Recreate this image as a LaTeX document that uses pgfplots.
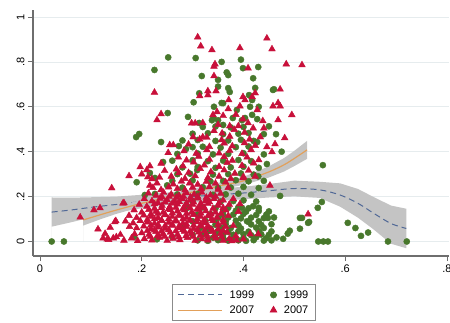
\documentclass[border=0pt]{standalone}
\usepackage{fontspec}
\setmainfont{Liberation Sans}
\usepackage{pgfplots}
\pgfplotsset{compat=1.18}
\pgfplotsset{linelegend/.style={legend image code/.code={\draw[##1] (0pt,0pt) -- (44pt,0pt);}}}
\definecolor{sgreen}{RGB}{72,120,44}
\definecolor{sred}{RGB}{200,16,58}
\definecolor{sblue}{RGB}{80,104,150}
\definecolor{sorange}{RGB}{226,160,90}
\definecolor{band}{RGB}{196,196,196}
\definecolor{gridc}{RGB}{230,236,238}
\definecolor{axc}{RGB}{110,110,110}
\begin{document}
\begin{tikzpicture}
\path[use as bounding box] (0,0) rectangle (450pt,322pt);
\begin{axis}[
  at={(33pt,66pt)}, anchor=south west, scale only axis,
  width=416pt, height=246pt,
  xmin=-0.01376, xmax=0.804, ymin=-0.0646, ymax=1.031,
  axis x line*=bottom, axis y line*=left,
  axis line style={axc, line width=1.2pt, -},
  xtick={0,0.2,0.4,0.6,0.8}, ytick={0,0.2,0.4,0.6,0.8,1},
  tick align=outside, major tick length=5pt,
  tick style={axc, line width=0.8pt},
  ymajorgrids, grid style={gridc, line width=0.6pt},
  /pgf/number format/fixed, /pgf/number format/precision=1,
  /pgf/number format/skip 0., /pgf/number format/assume math mode=true,
  ticklabel style={font=\fontsize{11}{13}\selectfont},
  yticklabel style={rotate=90, anchor=south},
  legend columns=2,
  legend style={at={(0.507,-0.114)}, anchor=north, draw=axc!80, line width=0.6pt,
    fill=white, font=\fontsize{11}{13}\selectfont, inner xsep=5pt, inner ysep=4pt,
    row sep=2pt,
    /tikz/every odd column/.append style={column sep=5pt},
    /tikz/every even column/.append style={column sep=14pt}},
  legend cell align=left,
]
% 1999 CI band
\addplot[fill=band, draw=none, forget plot] coordinates {
(0.023,0.196) (0.06,0.195) (0.1,0.197) (0.15,0.2) (0.2,0.208) (0.25,0.218) (0.3,0.227) (0.35,0.235) (0.4,0.244) (0.45,0.256) (0.5,0.271) (0.55,0.266) (0.59,0.259) (0.625,0.234) (0.655,0.199) (0.69,0.16) (0.72,0.146)
(0.72,-0.03) (0.69,-0.01) (0.655,0.055) (0.625,0.106) (0.59,0.155) (0.55,0.194) (0.5,0.201) (0.45,0.196) (0.4,0.188) (0.35,0.181) (0.3,0.173) (0.25,0.162) (0.2,0.148) (0.15,0.13) (0.1,0.107) (0.06,0.085) (0.023,0.066)
} \closedcycle;
% 1999 fit
\addplot[sblue, line width=1pt, dash pattern=on 6pt off 4pt, smooth, linelegend] coordinates {
(0.023,0.131) (0.06,0.14) (0.1,0.152) (0.15,0.165) (0.2,0.178) (0.25,0.19) (0.3,0.2) (0.35,0.208) (0.4,0.216) (0.45,0.226) (0.5,0.236) (0.55,0.23) (0.59,0.207) (0.625,0.17) (0.655,0.127) (0.69,0.08) (0.72,0.058)
};
\addlegendentry{1999}
% 1999 scatter
\addplot[only marks, mark=*, mark size=3.1pt, mark options={fill=sgreen, draw=sgreen}] coordinates {
(0.023,0) (0.047,0) (0.252,0.82) (0.306,0.817) (0.225,0.764) (0.318,0.737) (0.357,0.80) (0.313,0.66) (0.302,0.62) (0.251,0.572) (0.291,0.555) (0.189,0.465) (0.195,0.479) (0.238,0.443) (0.273,0.425) (0.287,0.412) (0.313,0.528) (0.342,0.6) (0.357,0.617) (0.341,0.55) (0.35,0.72)
(0.395,0.81) (0.399,0.772) (0.429,0.777) (0.419,0.727) (0.423,0.684) (0.46,0.678) (0.411,0.652) (0.37,0.741) (0.373,0.666) (0.43,0.6) (0.427,0.545) (0.464,0.478) (0.427,0.443) (0.475,0.40) (0.403,0.55) (0.413,0.6)
(0.367,0.753) (0.35,0.69) (0.37,0.683) (0.458,0.675) (0.36,0.616) (0.417,0.63) (0.387,0.586) (0.35,0.54) (0.338,0.54) (0.417,0.564) (0.379,0.55) (0.397,0.54) (0.36,0.519)
(0.242,0.354) (0.226,0.283) (0.19,0.264) (0.216,0.305) (0.206,0.207) (0.25,0.25) (0.309,0.318) (0.226,0.212)
(0.556,0.34) (0.446,0.345) (0.472,0.203) (0.554,0.176) (0.546,0.15) (0.511,0.105) (0.527,0.083) (0.511,0.057) (0.491,0.048) (0.487,0.035) (0.478,0.012) (0.547,0) (0.557,0) (0.566,0) (0.605,0.083) (0.62,0.06) (0.645,0.04) (0.631,0.025) (0.684,0) (0.721,0) (0.429,0.29) (0.448,0.105) (0.432,0.038) (0.407,0.09) (0.397,0.15) (0.419,0.157) (0.529,0.087) (0.515,0.105)
(0.31,0.005) (0.33,0.003) (0.35,0.006) (0.37,0.004) (0.39,0.005) (0.405,0.003) (0.42,0.006) (0.44,0.004) (0.455,0.005)
(0.30,0.03) (0.32,0.032) (0.345,0.028) (0.36,0.031) (0.38,0.03) (0.4,0.033) (0.415,0.028) (0.435,0.031) (0.45,0.03)
(0.315,0.06) (0.335,0.058) (0.355,0.062) (0.375,0.06) (0.395,0.058) (0.425,0.062) (0.44,0.06)
(0.30,0.09) (0.325,0.092) (0.345,0.088) (0.365,0.09) (0.385,0.093) (0.41,0.088) (0.43,0.09)
(0.31,0.12) (0.335,0.122) (0.36,0.118) (0.38,0.12) (0.40,0.123) (0.425,0.118) (0.445,0.12)
(0.29,0.15) (0.32,0.152) (0.345,0.148) (0.37,0.15) (0.39,0.153) (0.41,0.148) (0.43,0.15)
(0.30,0.18) (0.33,0.182) (0.355,0.178) (0.38,0.18) (0.40,0.183) (0.425,0.178)
(0.27,0.21) (0.31,0.212) (0.34,0.208) (0.365,0.21) (0.39,0.213) (0.415,0.208)
(0.28,0.24) (0.32,0.242) (0.35,0.238) (0.375,0.24) (0.40,0.243) (0.43,0.238)
(0.26,0.27) (0.30,0.272) (0.335,0.268) (0.36,0.27) (0.385,0.273) (0.41,0.268) (0.44,0.27)
(0.27,0.30) (0.295,0.302) (0.34,0.298) (0.37,0.30) (0.395,0.303) (0.42,0.298)
(0.28,0.33) (0.31,0.332) (0.345,0.328) (0.375,0.33) (0.40,0.333) (0.43,0.328)
(0.26,0.36) (0.30,0.362) (0.33,0.358) (0.36,0.36) (0.39,0.363) (0.415,0.358)
(0.27,0.39) (0.31,0.392) (0.34,0.388) (0.37,0.39) (0.40,0.393) (0.44,0.388)
(0.30,0.42) (0.32,0.422) (0.355,0.418) (0.385,0.42) (0.41,0.423)
(0.28,0.45) (0.31,0.452) (0.345,0.448) (0.37,0.45) (0.395,0.453) (0.42,0.448)
(0.30,0.48) (0.33,0.482) (0.36,0.478) (0.39,0.48) (0.41,0.483) (0.44,0.478)
(0.32,0.51) (0.345,0.512) (0.375,0.508) (0.40,0.51) (0.45,0.513)
(0.185,0.02) (0.23,0.01) (0.26,0.02) (0.28,0.06)
(0.34,0.017) (0.36,0.015) (0.38,0.018) (0.40,0.016) (0.425,0.019) (0.445,0.015) (0.465,0.018)
(0.33,0.045) (0.35,0.047) (0.37,0.043) (0.39,0.046) (0.41,0.044) (0.43,0.047) (0.455,0.045)
(0.345,0.075) (0.365,0.077) (0.39,0.073) (0.415,0.076) (0.435,0.074) (0.455,0.077)
(0.35,0.105) (0.37,0.107) (0.395,0.103) (0.415,0.106) (0.44,0.104) (0.46,0.107)
(0.36,0.135) (0.385,0.137) (0.405,0.133) (0.43,0.136) (0.45,0.134)
};
\addlegendentry{1999}
% 2007 CI band
\addplot[fill=band, draw=none, forget plot] coordinates {
(0.085,0.121) (0.12,0.14) (0.15,0.157) (0.2,0.185) (0.25,0.21) (0.3,0.234) (0.35,0.261) (0.4,0.288) (0.45,0.335) (0.48,0.372) (0.5,0.404) (0.525,0.448)
(0.525,0.368) (0.5,0.336) (0.48,0.312) (0.45,0.285) (0.4,0.252) (0.35,0.231) (0.3,0.206) (0.25,0.182) (0.2,0.155) (0.15,0.123) (0.12,0.1) (0.085,0.071)
} \closedcycle;
% 2007 fit
\addplot[sorange, line width=1.2pt, smooth, linelegend] coordinates {
(0.085,0.096) (0.12,0.12) (0.15,0.14) (0.2,0.17) (0.25,0.196) (0.3,0.22) (0.35,0.246) (0.4,0.27) (0.45,0.31) (0.48,0.342) (0.5,0.37) (0.525,0.408)
};
\addlegendentry{2007}
% 2007 scatter
\addplot[only marks, mark=triangle*, mark size=3.9pt, mark options={fill=sred, draw=sred}] coordinates {
(0.31,0.91) (0.316,0.87) (0.338,0.853) (0.342,0.78) (0.342,0.737) (0.225,0.664) (0.314,0.648) (0.33,0.67) (0.346,0.67) (0.238,0.568) (0.23,0.541) (0.298,0.527) (0.305,0.527) (0.301,0.465) (0.314,0.456) (0.32,0.465) (0.255,0.43) (0.262,0.43) (0.252,0.395)
(0.446,0.905) (0.393,0.862) (0.456,0.857) (0.484,0.79) (0.515,0.786) (0.409,0.772) (0.472,0.678) (0.423,0.661) (0.371,0.63) (0.399,0.644) (0.458,0.603) (0.472,0.603) (0.393,0.603) (0.427,0.586) (0.495,0.564) (0.468,0.541) (0.438,0.537) (0.44,0.505) (0.419,0.505) (0.462,0.434) (0.481,0.461) (0.446,0.421) (0.456,0.399)
(0.344,0.79) (0.33,0.652) (0.403,0.63) (0.417,0.644) (0.37,0.59) (0.468,0.617) (0.409,0.528) (0.373,0.514) (0.348,0.577) (0.34,0.564) (0.32,0.528) (0.399,0.545)
(0.079,0.108) (0.106,0.14) (0.118,0.149) (0.141,0.238) (0.114,0.055) (0.124,0.015) (0.132,0.01) (0.144,0.015) (0.149,0.092) (0.165,0.172) (0.175,0.292) (0.197,0.332) (0.21,0.319) (0.22,0.279) (0.216,0.336) (0.2,0.30) (0.212,0.287) (0.216,0.25) (0.273,0.305) (0.163,0.17) (0.147,0.087)
(0.527,0.122) (0.452,0.25) (0.423,0.29) (0.399,0.283) (0.429,0.033) (0.413,0.033) (0.393,0.167) (0.377,0.002)
(0.135,0.008) (0.15,0.02) (0.165,0.005) (0.18,0.015) (0.192,0.003) (0.205,0.012) (0.22,0.006) (0.235,0.018) (0.25,0.004) (0.262,0.013) (0.275,0.007) (0.29,0.017) (0.305,0.004) (0.318,0.011) (0.33,0.006) (0.345,0.015) (0.36,0.004) (0.372,0.012) (0.386,0.006) (0.4,0.01)
(0.128,0.035) (0.158,0.03) (0.186,0.033) (0.2,0.038) (0.214,0.03) (0.228,0.044) (0.242,0.034) (0.256,0.04) (0.27,0.03) (0.284,0.045) (0.298,0.036) (0.312,0.041) (0.327,0.032) (0.34,0.044) (0.355,0.035) (0.368,0.04)
(0.138,0.062) (0.176,0.066) (0.19,0.06) (0.204,0.068) (0.218,0.056) (0.232,0.064) (0.246,0.058) (0.26,0.07) (0.274,0.06) (0.288,0.066) (0.302,0.057) (0.316,0.068) (0.33,0.062) (0.35,0.055) (0.365,0.066)
(0.168,0.09) (0.183,0.082) (0.197,0.092) (0.211,0.086) (0.225,0.08) (0.239,0.093) (0.253,0.085) (0.267,0.09) (0.281,0.081) (0.295,0.094) (0.309,0.087) (0.323,0.083) (0.34,0.092) (0.36,0.085)
(0.175,0.115) (0.19,0.106) (0.204,0.117) (0.218,0.11) (0.232,0.105) (0.246,0.118) (0.26,0.11) (0.274,0.115) (0.288,0.106) (0.302,0.119) (0.316,0.11) (0.33,0.114) (0.348,0.107) (0.37,0.115)
(0.185,0.14) (0.2,0.13) (0.214,0.142) (0.228,0.134) (0.242,0.129) (0.256,0.141) (0.27,0.135) (0.284,0.14) (0.298,0.13) (0.312,0.143) (0.326,0.136) (0.345,0.13) (0.365,0.14) (0.39,0.133)
(0.195,0.165) (0.21,0.156) (0.225,0.167) (0.24,0.16) (0.255,0.154) (0.27,0.166) (0.285,0.159) (0.3,0.165) (0.315,0.155) (0.33,0.168) (0.35,0.16) (0.372,0.165)
(0.205,0.19) (0.22,0.18) (0.236,0.192) (0.25,0.185) (0.265,0.179) (0.28,0.19) (0.295,0.184) (0.31,0.193) (0.325,0.18) (0.342,0.19) (0.36,0.184) (0.38,0.19)
(0.213,0.215) (0.228,0.205) (0.243,0.218) (0.258,0.21) (0.273,0.204) (0.288,0.216) (0.303,0.21) (0.318,0.218) (0.335,0.206) (0.355,0.214)
(0.222,0.24) (0.238,0.23) (0.253,0.242) (0.27,0.235) (0.285,0.229) (0.3,0.241) (0.317,0.234) (0.333,0.243) (0.35,0.232) (0.37,0.24)
(0.23,0.26) (0.262,0.255) (0.278,0.268) (0.294,0.26) (0.31,0.254) (0.327,0.266) (0.345,0.259) (0.365,0.264)
(0.217,0.022) (0.231,0.026) (0.245,0.021) (0.259,0.027) (0.273,0.02) (0.287,0.025) (0.301,0.022) (0.315,0.027) (0.329,0.021) (0.343,0.026) (0.357,0.022) (0.385,0.025)
(0.211,0.048) (0.225,0.05) (0.239,0.046) (0.253,0.051) (0.267,0.047) (0.281,0.052) (0.295,0.045) (0.309,0.05) (0.323,0.047) (0.337,0.052) (0.36,0.048)
(0.218,0.072) (0.232,0.075) (0.246,0.07) (0.26,0.076) (0.274,0.071) (0.288,0.077) (0.302,0.072) (0.316,0.075) (0.33,0.07) (0.35,0.076) (0.38,0.07)
(0.211,0.097) (0.225,0.1) (0.239,0.095) (0.253,0.101) (0.267,0.096) (0.281,0.1) (0.295,0.095) (0.309,0.101) (0.323,0.097) (0.337,0.1) (0.36,0.097)
(0.218,0.122) (0.232,0.125) (0.246,0.12) (0.26,0.126) (0.274,0.121) (0.288,0.125) (0.302,0.12) (0.316,0.126) (0.336,0.122) (0.356,0.125)
(0.225,0.147) (0.239,0.15) (0.253,0.145) (0.267,0.151) (0.281,0.146) (0.295,0.15) (0.309,0.145) (0.323,0.151) (0.34,0.147) (0.36,0.15)
(0.232,0.172) (0.246,0.175) (0.26,0.17) (0.274,0.176) (0.288,0.171) (0.302,0.175) (0.316,0.17) (0.333,0.176) (0.352,0.172)
(0.24,0.198) (0.254,0.2) (0.268,0.196) (0.282,0.201) (0.296,0.197) (0.31,0.2) (0.327,0.196) (0.345,0.2)
(0.235,0.285) (0.258,0.29) (0.285,0.28) (0.305,0.292) (0.33,0.284) (0.352,0.29) (0.375,0.28) (0.4,0.288)
(0.245,0.315) (0.268,0.322) (0.292,0.306) (0.315,0.324) (0.336,0.31) (0.362,0.318) (0.383,0.303) (0.41,0.316)
(0.238,0.348) (0.281,0.336) (0.302,0.353) (0.323,0.34) (0.352,0.333) (0.368,0.351) (0.397,0.338) (0.42,0.349)
(0.272,0.375) (0.288,0.362) (0.312,0.379) (0.333,0.365) (0.362,0.377) (0.378,0.361) (0.407,0.375) (0.43,0.363)
(0.283,0.403) (0.307,0.392) (0.328,0.408) (0.352,0.393) (0.373,0.405) (0.397,0.391) (0.415,0.408)
(0.292,0.433) (0.333,0.422) (0.362,0.438) (0.378,0.425) (0.402,0.439) (0.423,0.427)
(0.328,0.463) (0.357,0.452) (0.373,0.468) (0.412,0.455) (0.433,0.465)
(0.342,0.493) (0.358,0.482) (0.382,0.498) (0.402,0.485)
(0.35,0.52) (0.39,0.515)
(0.36,0.56) (0.385,0.565)
};
\addlegendentry{2007}
\end{axis}
\end{tikzpicture}
\end{document}
